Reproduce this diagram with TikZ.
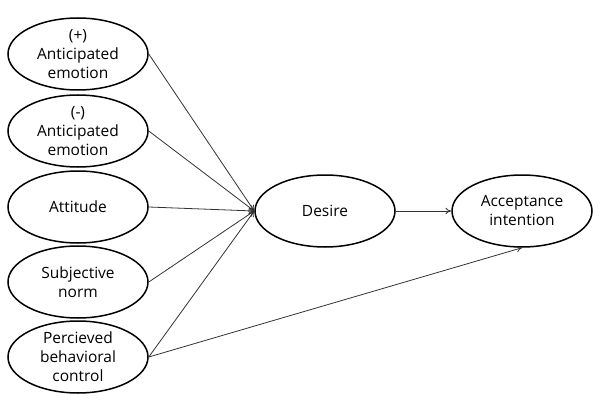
\documentclass[tikz,border=0pt]{standalone}
\usepackage{fontspec}
\setmainfont{Open Sans}
\usetikzlibrary{arrows.meta,positioning,shapes.geometric}

\begin{document}
\begin{tikzpicture}[
  x=1pt, y=-1pt,
  font=\fontsize{15.5}{19}\selectfont, >={To[length=2mm,width=2.2mm]},
  v/.style={draw,ellipse,line width=1.5pt,align=center,inner sep=0pt,
            minimum width=140pt,minimum height=72pt},
  p/.style={draw=black!80,line width=0.8pt}
]
\useasboundingbox (0,0) rectangle (600,412);
\node[v] (pos) at (78,54) {(+)\\Anticipated\\emotion};
\node[v] (neg) at (78,131) {(-)\\Anticipated\\emotion};
\node[v] (att) at (78,207) {Attitude};
\node[v] (sn) at (78,282) {Subjective\\norm};
\node[v] (pbc) at (78,357) {Percieved\\behavioral\\control};
\node[v] (des) at (325,211) {Desire};
\node[v] (acc) at (522,211) {Acceptance\\intention};
\foreach \n in {pos,neg,att,sn,pbc}
  \draw[p,->] (\n.east) -- (des.west);
\draw[p,->] (des.east) -- (acc.west);
\draw[p,->] (pbc.east) -- (acc.south);
\end{tikzpicture}
\end{document}
